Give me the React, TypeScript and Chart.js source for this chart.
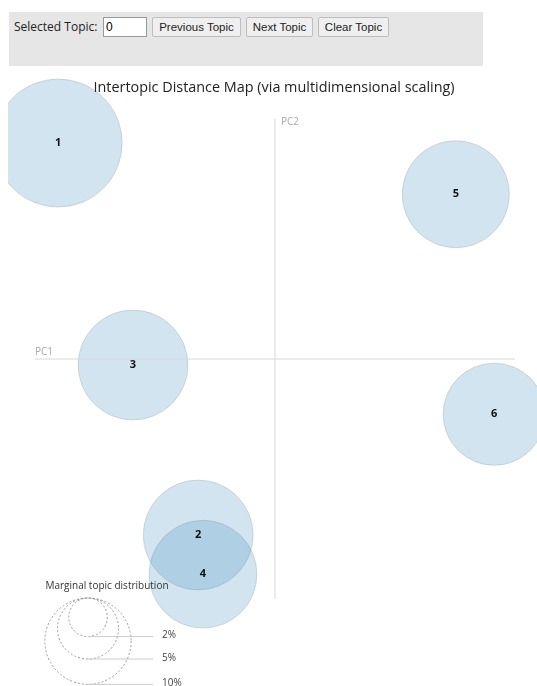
import React, { useEffect, useRef } from "react";
import { Chart, registerables } from "chart.js";

Chart.register(...registerables);

// Topic data (PC coordinates from multidimensional scaling)
const topicLabels = ["1", "2", "3", "4", "5", "6"];
const pc1Values = [-0.271, -0.096, -0.1775, -0.09, 0.226, 0.274];
const pc2Values = [0.27, -0.22, -0.0075, -0.269, 0.206, -0.069];
const marginalPct = [22.0, 16.2, 16.2, 15.6, 15.4, 14.0];

// Legend for marginal topic distribution
const legendPct = [2, 5, 10];
const legendLabels = ["2%", "5%", "10%"];

// axes extents
const axisExtent = [-0.3, 0.3];
const xRange = [-0.33375, 0.3275];
const yRange = [-0.40875, 0.36625];

const TITLE = "Intertopic Distance Map (via multidimensional scaling)";
const radiusOf = (pct: number) => 13.65 * Math.sqrt(pct);

const FONT = "'Open Sans', 'Noto Sans', sans-serif";

export default function App() {
  const ref = useRef<HTMLCanvasElement | null>(null);

  useEffect(() => {
    const canvas = ref.current;
    if (!canvas) return;

    const overlay = {
      id: "ldavisOverlay",
      afterDatasetsDraw(chart: any) {
        const ctx = chart.ctx;
        const xs = chart.scales.x;
        const ys = chart.scales.y;
        ctx.save();
        // topic labels
        const meta = chart.getDatasetMeta(2);
        ctx.fillStyle = "#111";
        ctx.font = `bold 11px ${FONT}`;
        ctx.textAlign = "center";
        ctx.textBaseline = "middle";
        meta.data.forEach((el: any, i: number) => {
          ctx.fillText(topicLabels[i], el.x, el.y);
        });
        // axis labels
        ctx.fillStyle = "#aaa";
        ctx.font = `10px ${FONT}`;
        ctx.textAlign = "left";
        ctx.textBaseline = "alphabetic";
        ctx.fillText("PC1", xs.getPixelForValue(axisExtent[0]), ys.getPixelForValue(0) - 4);
        ctx.textBaseline = "top";
        ctx.fillText("PC2", xs.getPixelForValue(0) + 6, ys.getPixelForValue(axisExtent[1]) - 2);
        // title
        ctx.fillStyle = "#222";
        ctx.font = `14.4px ${FONT}`;
        ctx.textAlign = "center";
        ctx.textBaseline = "middle";
        ctx.fillText(TITLE, 266, 22);
        // legend
        const cx = 80;
        const top = 532;
        ctx.font = `10px ${FONT}`;
        ctx.fillStyle = "#333";
        ctx.fillText("Marginal topic distribution", 99, 520);
        legendPct.forEach((p, i) => {
          const r = radiusOf(p);
          const bottom = top + 2 * r;
          ctx.beginPath();
          ctx.setLineDash([2, 2]);
          ctx.strokeStyle = "#999";
          ctx.lineWidth = 1;
          ctx.arc(cx, top + r, r, 0, Math.PI * 2);
          ctx.stroke();
          ctx.setLineDash([]);
          ctx.beginPath();
          ctx.strokeStyle = "#ccc";
          ctx.moveTo(cx, bottom);
          ctx.lineTo(145, bottom);
          ctx.stroke();
          ctx.fillStyle = "#444";
          ctx.textAlign = "left";
          ctx.textBaseline = "middle";
          ctx.fillText(legendLabels[i], 154, bottom - 1);
        });
        ctx.restore();
      },
    };

    const chart = new Chart(canvas, {
      type: "bubble",
      data: {
        datasets: [
          {
            type: "line",
            data: [
              { x: axisExtent[0], y: 0 },
              { x: axisExtent[1], y: 0 },
            ],
            borderColor: "#d8d8d8",
            borderWidth: 1,
            pointRadius: 0,
            fill: false,
          } as any,
          {
            type: "line",
            data: [
              { x: 0, y: axisExtent[0] },
              { x: 0, y: axisExtent[1] },
            ],
            borderColor: "#d8d8d8",
            borderWidth: 1,
            pointRadius: 0,
            fill: false,
          } as any,
          {
            type: "bubble",
            data: topicLabels.map((_, i) => ({
              x: pc1Values[i],
              y: pc2Values[i],
              r: radiusOf(marginalPct[i]),
            })),
            backgroundColor: "rgba(31,119,180,0.2)",
            borderColor: "rgba(120,120,120,0.22)",
            borderWidth: 1,
            hoverRadius: 0,
            clip: false,
          } as any,
        ],
      },
      options: {
        animation: false,
        responsive: false,
        maintainAspectRatio: false,
        devicePixelRatio: 1,
        layout: { padding: 0, autoPadding: false },
        plugins: {
          legend: { display: false },
          tooltip: { enabled: false },
          title: { display: false },
        },
        scales: {
          x: { type: "linear", display: false, min: xRange[0], max: xRange[1] },
          y: { type: "linear", display: false, min: yRange[0], max: yRange[1] },
        },
      },
      plugins: [overlay],
    });
    return () => chart.destroy();
  }, []);

  const btn: React.CSSProperties = {
    position: "absolute",
    top: 17,
    height: 20,
    padding: 0,
    boxSizing: "border-box",
    fontFamily: "'Liberation Sans', Arial, sans-serif",
    fontSize: 11.5,
    color: "#222",
    background: "#efefef",
    border: "1px solid #bdbdbd",
    borderRadius: 2,
  };

  return (
    <div
      style={{
        position: "fixed",
        left: 0,
        top: 0,
        width: 537,
        height: 686,
        overflow: "hidden",
        background: "#fff",
      }}
    >
      <div
        style={{
          position: "absolute",
          left: 9,
          top: 12,
          width: 474,
          height: 54,
          background: "#e6e6e6",
        }}
      />
      <span
        style={{
          position: "absolute",
          left: 14,
          top: 18,
          fontFamily: FONT,
          fontSize: 12,
          color: "#222",
          lineHeight: "18px",
        }}
      >
        Selected Topic:
      </span>
      <input
        readOnly
        value="0"
        style={{
          position: "absolute",
          left: 103,
          top: 17,
          width: 44,
          height: 20,
          boxSizing: "border-box",
          padding: "0 2px",
          fontFamily: "'Liberation Sans', Arial, sans-serif",
          fontSize: 12,
          border: "1px solid #999",
          background: "#fff",
        }}
      />
      <button style={{ ...btn, left: 152, width: 89 }}>Previous Topic</button>
      <button style={{ ...btn, left: 246, width: 67 }}>Next Topic</button>
      <button style={{ ...btn, left: 318, width: 71 }}>Clear Topic</button>
      <canvas
        ref={ref}
        width={529}
        height={620}
        style={{ position: "absolute", left: 8, top: 66, width: 529, height: 620 }}
      />
    </div>
  );
}
